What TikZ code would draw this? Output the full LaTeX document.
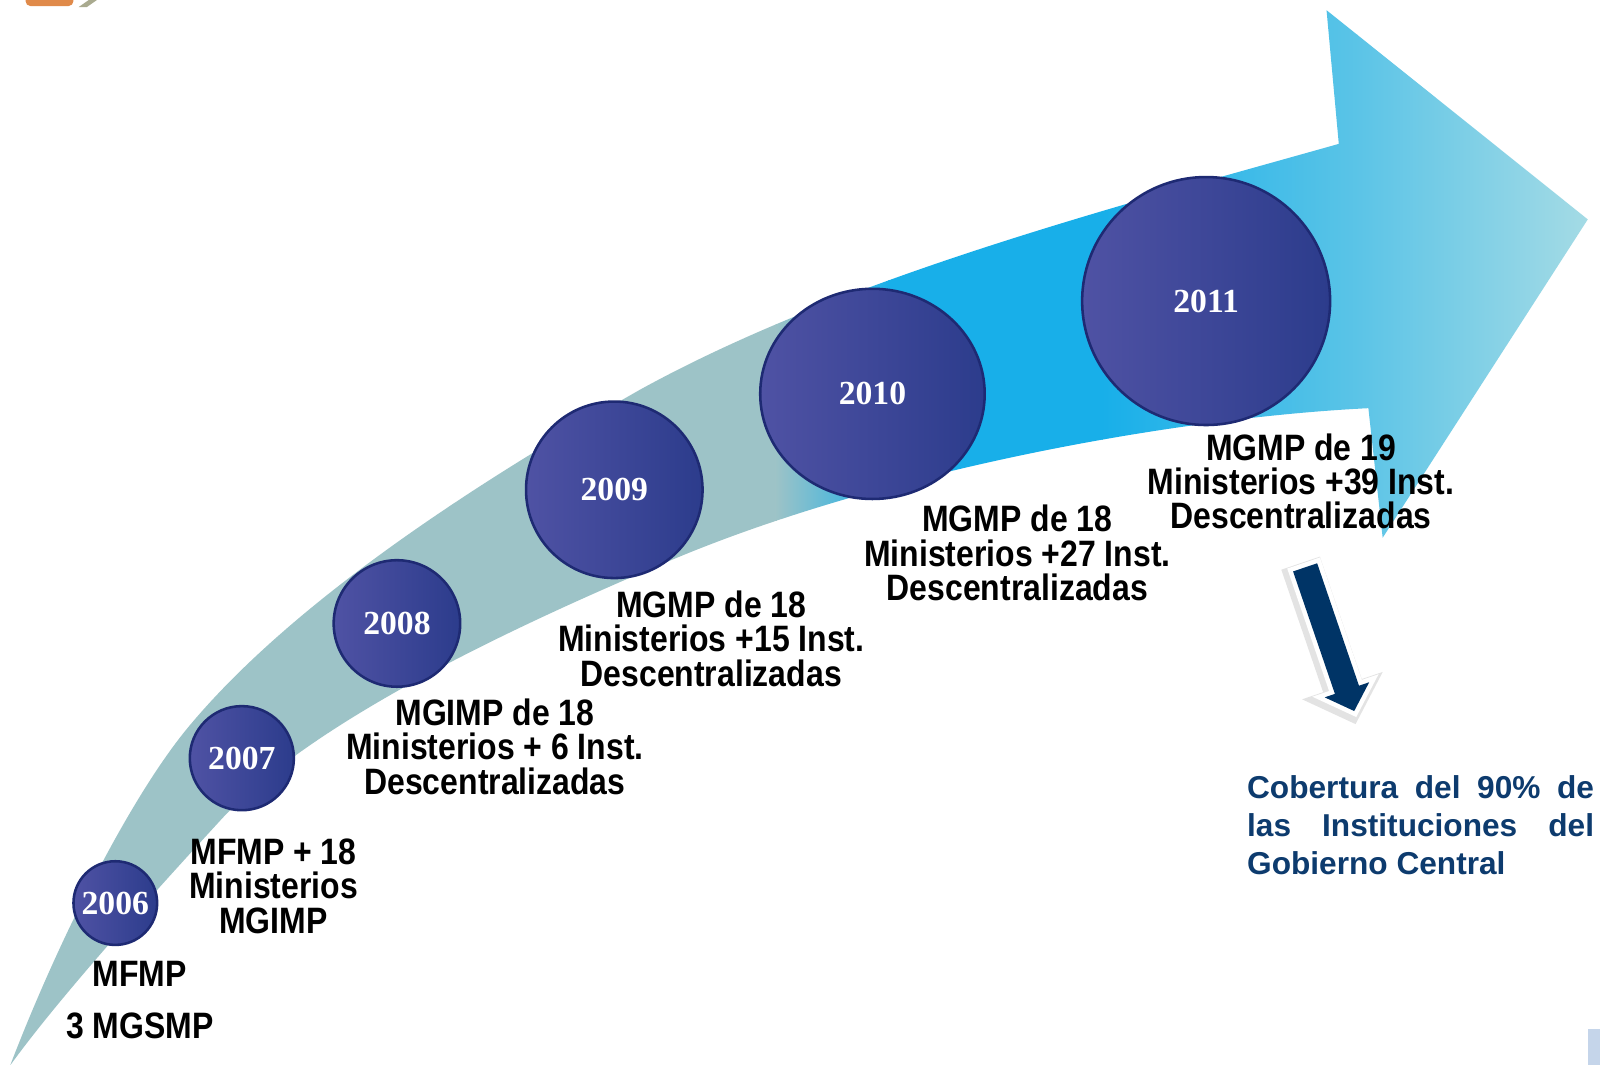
\documentclass[tikz,border=0pt]{standalone}
\usepackage{fontspec}
\usetikzlibrary{shapes.geometric}
\setmainfont{Liberation Sans}
\newfontfamily\yrfont{Liberation Serif}
\definecolor{bandA}{HTML}{9DC3C7}
\definecolor{bandB}{HTML}{18AFE9}
\definecolor{bandC}{HTML}{5BC4E7}
\definecolor{bandD}{HTML}{A8DCE5}
\definecolor{circL}{HTML}{4F52A4}
\definecolor{circR}{HTML}{2C3C8C}
\definecolor{circB}{HTML}{1E2A73}
\definecolor{navy}{HTML}{0D3B6E}
\definecolor{arrnavy}{HTML}{003466}
\definecolor{orangeA}{HTML}{E08A4A}
\definecolor{oliveA}{HTML}{A9AA8F}
\definecolor{paleblue}{HTML}{C5D5EA}
\begin{document}
\begin{tikzpicture}[x=1pt,y=-1pt,
  yearc/.style={circle, draw=circB, line width=2.5pt, left color=circL, right color=circR,
    text=white, font=\yrfont\bfseries\fontsize{33}{36}\selectfont, inner sep=0pt},
  lab/.style={font=\bfseries\fontsize{36}{33.5}\selectfont, xscale=0.87, align=center, inner sep=0pt, anchor=north, text=black},
  note/.style={font=\bfseries\fontsize{31}{37}\selectfont, align=left, inner sep=0pt, anchor=north west, text=navy}]
\useasboundingbox (0,0) rectangle (1568,1044);
\fill[white] (0,0) rectangle (1568,1044);
% corner decorations
\fill[orangeA] (25,0) -- (25,1) to[out=-90,in=180] (30,6) -- (67,6) to[out=0,in=-90] (72,1) -- (72,0) -- cycle;
\fill[oliveA] (77,7) -- (85,7) -- (95,0) -- (87,0) -- cycle;
\fill[paleblue] (1556,1008) rectangle (1568,1044);
% big arrow
\begin{scope}
\clip (10,1044) .. controls (60,914) and (130,778) .. (185,712)
  .. controls (295,580) and (490,460) .. (627,382)
  .. controls (827,272) and (1092,203) .. (1312,141)
  -- (1300,10) -- (1556,215) -- (1355,527) -- (1341,400)
  .. controls (1141,410) and (860,464) .. (660,548)
  .. controls (510,611) and (305,706) .. (215,805)
  .. controls (150,876) and (60,975) .. (10,1044) -- cycle;
\fill[bandA] (0,0) rectangle (761,1044);
\shade[left color=bandA, right color=bandB] (760,0) rectangle (871,1044);
\fill[bandB] (870,0) rectangle (1081,1044);
\shade[left color=bandB, right color=bandC] (1080,0) rectangle (1331,1044);
\shade[left color=bandC, right color=bandD] (1330,0) rectangle (1568,1044);
\end{scope}
% circles
\node[yearc, minimum size=82] (c06) at (113,885) {2006};
\node[yearc, minimum size=102] (c07) at (237,743) {2007};
\node[yearc, minimum size=124] (c08) at (389,611) {2008};
\node[yearc, minimum size=173] (c09) at (602,480) {2009};
\node[yearc, ellipse, minimum width=220, minimum height=206] (c10) at (855,386) {2010};
\node[yearc, minimum size=243] (c11) at (1182,295) {2011};
% labels
\node[lab] (l06a) at (137,942) {MFMP};
\node[lab] (l06b) at (137,992) {3 MGSMP};
\node[lab] (l07) at (268,822) {MFMP + 18\\Ministerios\\MGIMP};
\node[lab] (l08) at (485,685) {MGIMP de 18\\Ministerios + 6 Inst.\\Descentralizadas};
\node[lab] (l09) at (697,579) {MGMP de 18\\Ministerios +15 Inst.\\Descentralizadas};
\node[lab] (l10) at (997,495) {MGMP de 18\\Ministerios +27 Inst.\\Descentralizadas};
\node[lab] (l11) at (1275,425) {MGMP de 19\\Ministerios +39 Inst.\\Descentralizadas};
% down arrow
\draw[gray, opacity=0.22, line width=15pt, line join=miter, shift={(-2,3)}]
  (1267.2,560.0) -- (1290.8,552.0) -- (1331.8,672.0) -- (1341.8,668.6) -- (1327.1,696.8) -- (1298.2,683.4) -- (1308.2,680.0) -- cycle;
\draw[white, line width=9pt, line join=miter, fill=arrnavy]
  (1267.2,560.0) -- (1290.8,552.0) -- (1331.8,672.0) -- (1341.8,668.6) -- (1327.1,696.8) -- (1298.2,683.4) -- (1308.2,680.0) -- cycle;
\fill[arrnavy] (1267.2,560.0) -- (1290.8,552.0) -- (1331.8,672.0) -- (1341.8,668.6) -- (1327.1,696.8) -- (1298.2,683.4) -- (1308.2,680.0) -- cycle;
% note text
\node[note] (cob) at (1222,760) {\makebox[340pt][s]{Cobertura del 90\% de}\\\makebox[340pt][s]{las Instituciones del}\\Gobierno Central};
\end{tikzpicture}
\end{document}
